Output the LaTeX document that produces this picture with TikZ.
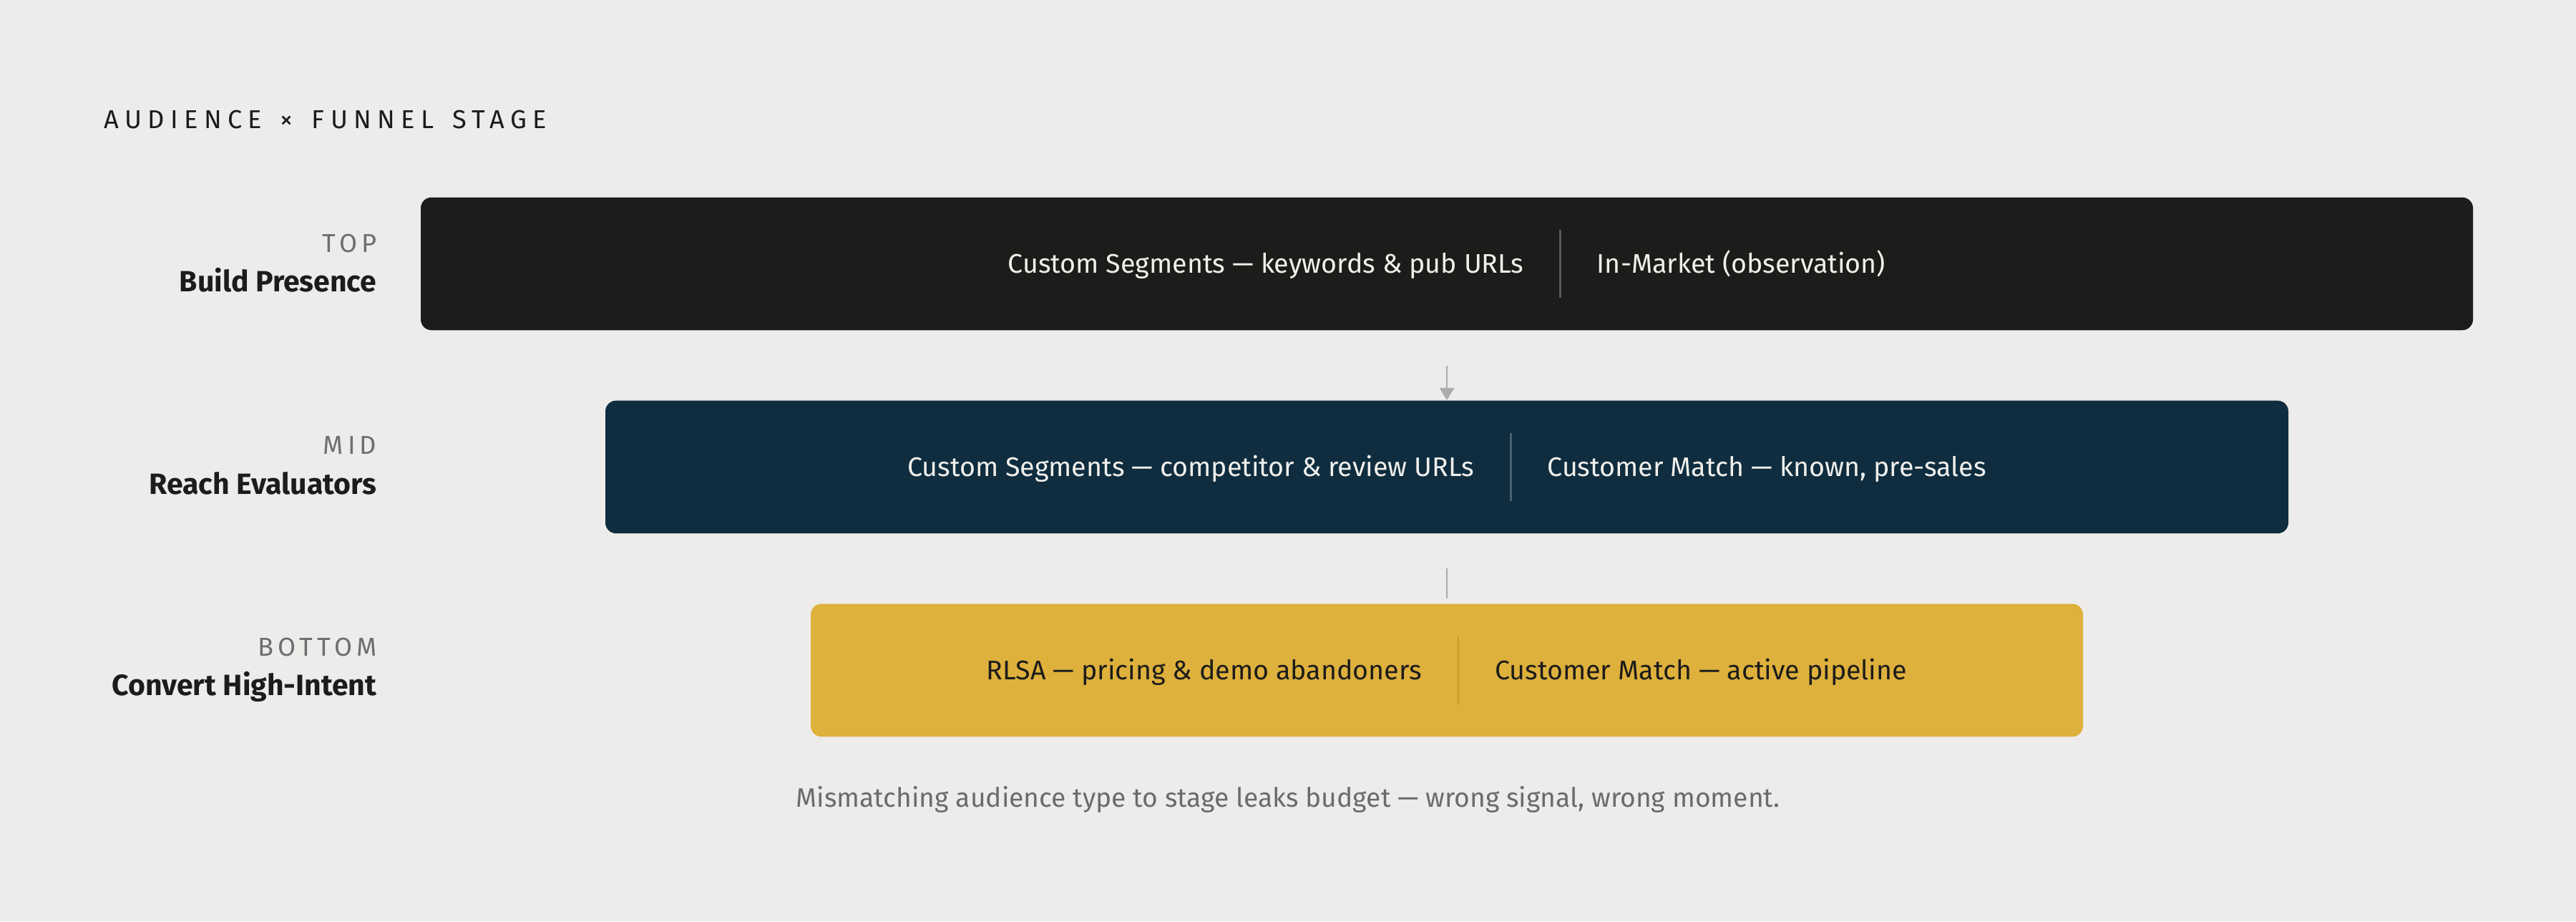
\documentclass[tikz,border=0pt]{standalone}
\usepackage{fontspec}
\setmainfont{Fira Sans}
\usetikzlibrary{positioning,arrows.meta}
\definecolor{paper}{HTML}{EDECEA}
\definecolor{ink}{HTML}{1C1C1A}
\definecolor{topInk}{HTML}{1C1C1A}
\definecolor{midNavy}{HTML}{0F2D3F}
\definecolor{botGold}{HTML}{DEB03C}
\definecolor{boxText}{HTML}{F0EFEC}
\definecolor{tagGrey}{HTML}{6E6E6E}
\definecolor{noteGrey}{HTML}{6B6B6B}
\definecolor{arrowGrey}{HTML}{ABABAB}
\definecolor{topBar}{HTML}{595957}
\definecolor{midBar}{HTML}{4A6170}
\definecolor{botBar}{HTML}{C39A2F}
\tikzset{
  stagebox/.style={rounded corners=0.15cm, minimum height=1.855cm, inner sep=0pt,
    font=\fontsize{10.7}{13}\selectfont},
  stagetag/.style={anchor=base east, inner sep=0pt, text=tagGrey,
    font=\fontsize{10.3}{12}\selectfont\addfontfeatures{LetterSpace=17}},
  rowname/.style={anchor=base east, inner sep=0pt, text=ink, font=\fontsize{11.65}{14}\selectfont\bfseries},
  flow/.style={draw=arrowGrey, line width=0.027cm, -{Triangle[width=0.2cm,length=0.17cm]}},
  link/.style={draw=arrowGrey, line width=0.027cm},
}

\begin{document}
\begin{tikzpicture}
\newcommand\splitbar[1]{\hspace{0.5cm}\textcolor{#1}{\rule[-0.345cm]{0.025cm}{0.95cm}}\hspace{0.5cm}}
\fill[paper] (0,0) rectangle (36,-12.87);
\node[anchor=base west, inner sep=0pt, text=ink, font=\fontsize{10.3}{12}\selectfont\addfontfeatures{LetterSpace=23}] (title) at (1.45,-1.79)
  {AUDIENCE\hspace{0.08cm} ×\hspace{0.08cm} FUNNEL\hspace{0.08cm} STAGE};
% funnel stages
\node[stagebox, fill=topInk, text=boxText, minimum width=28.68cm] (top) at (20.22,-3.685)
  {Custom Segments --- keywords \& pub URLs\splitbar{topBar}In-Market (observation)};
\node[stagebox, fill=midNavy, text=boxText, minimum width=23.52cm, below=0.97cm of top] (mid)
  {Custom Segments --- competitor \& review URLs\splitbar{midBar}Customer Match --- known, pre-sales};
\node[stagebox, fill=botGold, text=ink, minimum width=17.78cm, below=0.97cm of mid] (bot)
  {RLSA --- pricing \& demo abandoners\splitbar{botBar}Customer Match --- active pipeline};
% row labels
\node[stagetag] (toptag) at (5.27,-3.52) {TOP};
\node[rowname] (topname) at (5.27,-4.07) {Build Presence};
\node[stagetag] (midtag) at (5.27,-6.34) {MID};
\node[rowname] (midname) at (5.27,-6.90) {Reach Evaluators};
\node[stagetag] (bottag) at (5.27,-9.16) {BOTTOM};
\node[rowname] (botname) at (5.27,-9.71) {Convert High-Intent};
\draw[flow, shorten <=0.49cm] (top) -- (mid);
\draw[link, shorten <=0.48cm, shorten >=0.07cm] (mid) -- (bot);
\node[anchor=base, inner sep=0pt, text=noteGrey, font=\fontsize{10.6}{13}\selectfont] (note) at (18.0,-11.27)
  {Mismatching audience type to stage leaks budget --- wrong signal, wrong moment.};
\end{tikzpicture}
\end{document}
